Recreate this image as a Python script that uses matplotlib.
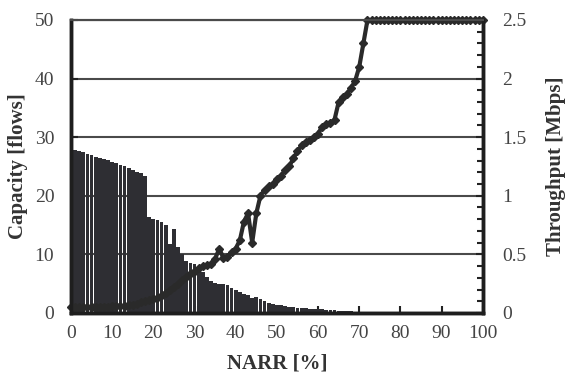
import matplotlib
matplotlib.use("Agg")
import matplotlib.pyplot as plt
import numpy as np
from matplotlib.ticker import MultipleLocator

plt.rcParams['font.family'] = ['Liberation Serif', 'DejaVu Serif']

# NARR [%] from 0 to 100 in steps of 1
narr = list(range(0, 101))

# Capacity [flows]
capacity = [28.0, 27.8, 27.6, 27.4, 27.2, 27.0, 26.7, 26.5, 26.3, 26.1,
            25.8, 25.6, 25.3, 25.0, 24.7, 24.4, 24.1, 23.8, 23.4, 16.4,
            16.1, 15.8, 15.5, 15.0, 11.8, 14.3, 11.3, 10.0, 8.8, 8.5,
            8.3, 8.0, 7.0, 6.2, 5.5, 5.1, 5.0, 4.9, 4.8, 4.3,
            4.0, 3.5, 3.2, 3.0, 2.6, 2.8, 2.3, 2.0, 1.7, 1.5,
            1.4, 1.3, 1.2, 1.1, 1.0, 0.9, 0.85, 0.8, 0.75, 0.7,
            0.65, 0.6, 0.55, 0.5, 0.45, 0.4, 0.35, 0.3, 0.27, 0.24,
            0.2, 0.18, 0.15, 0.12, 0.1, 0.08, 0.06, 0.05, 0.04, 0.03,
            0.02, 0.02, 0.02, 0.01, 0.01, 0.01, 0.01, 0.0, 0.0, 0.0,
            0.0, 0.0, 0.0, 0.0, 0.0, 0.0, 0.0, 0.0, 0.0, 0.0, 0.0]

# Throughput [Mbps]
throughput = [0.05, 0.05, 0.05, 0.05, 0.05, 0.05, 0.05, 0.055, 0.055, 0.055,
              0.06, 0.06, 0.06, 0.06, 0.065, 0.07, 0.08, 0.09, 0.10, 0.11,
              0.12, 0.13, 0.15, 0.17, 0.20, 0.22, 0.25, 0.28, 0.31, 0.33,
              0.36, 0.38, 0.40, 0.41, 0.42, 0.46, 0.55, 0.47, 0.48, 0.52,
              0.55, 0.62, 0.78, 0.85, 0.60, 0.85, 1.00, 1.05, 1.08, 1.10,
              1.14, 1.17, 1.22, 1.25, 1.32, 1.38, 1.43, 1.46, 1.48, 1.50,
              1.53, 1.59, 1.61, 1.62, 1.65, 1.80, 1.84, 1.87, 1.92, 1.98,
              2.10, 2.30, 2.50, 2.50, 2.50, 2.50, 2.50, 2.50, 2.50, 2.50,
              2.50, 2.50, 2.50, 2.50, 2.50, 2.50, 2.50, 2.50, 2.50, 2.50,
              2.50, 2.50, 2.50, 2.50, 2.50, 2.50, 2.50, 2.50, 2.50, 2.50, 2.50]

fig = plt.figure(figsize=(5.68, 3.84), dpi=100)
ax = fig.add_axes([0.125, 0.185, 0.725, 0.763])

ax.bar(narr, capacity, width=0.92, color='#2e2e33', linewidth=0)
ax.set_axisbelow(True)
ax.yaxis.grid(True, color='#4a4a4a', linewidth=1.5)
ax.set_xlim(0, 100)
ax.set_ylim(0, 50)
ax.xaxis.set_major_locator(MultipleLocator(10))
ax.yaxis.set_major_locator(MultipleLocator(10))
ax.tick_params(axis='both', direction='in', labelsize=14, length=5, width=1.5, colors='#222222', labelcolor='#444444')
ax.tick_params(axis='x', pad=9)
ax.tick_params(axis='y', pad=12)
ax.set_xlabel('NARR [%]', fontsize=15, fontweight='bold', color='#333333', labelpad=8)
ax.set_ylabel('Capacity [flows]', fontsize=15, fontweight='bold', color='#333333', labelpad=5)

ax2 = ax.twinx()
ax2.plot(narr, throughput, color='#2a2a2a', linewidth=3, marker='D', markersize=4, clip_on=False)
ax2.set_ylim(0, 2.5)
ax2.yaxis.set_minor_locator(MultipleLocator(0.1))
ax2.set_yticks([0, 0.5, 1, 1.5, 2, 2.5])
ax2.set_yticklabels(['0', '0.5', '1', '1.5', '2', '2.5'])
ax2.tick_params(axis='y', which='major', direction='in', labelsize=14, length=5, width=1.5, colors='#222222', labelcolor='#444444', pad=14)
ax2.tick_params(axis='y', which='minor', direction='in', length=4, width=1.5, colors='#222222')
ax2.set_ylabel('Throughput [Mbps]', fontsize=15, fontweight='bold', color='#333333', labelpad=14)

for a in (ax, ax2):
    for side in ('left', 'bottom', 'right'):
        a.spines[side].set_linewidth(2.5)
        a.spines[side].set_color('#1e1e1e')
    a.spines['top'].set_linewidth(1.5)
    a.spines['top'].set_color('#4a4a4a')

fig.savefig('out.png', dpi=100)
